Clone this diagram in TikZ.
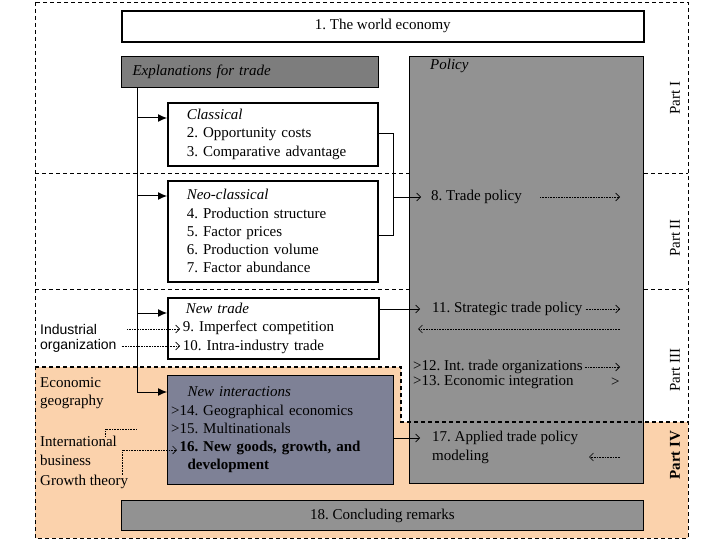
\documentclass[tikz,border=0pt]{standalone}
\usepackage{fontspec}
\setmainfont{Liberation Serif}
\setsansfont{Liberation Sans}
\usetikzlibrary{arrows.meta, positioning}
\definecolor{peach}{RGB}{251,210,172}
\definecolor{slab}{RGB}{146,146,146}
\definecolor{slabdark}{RGB}{125,125,125}
\definecolor{slabblue}{RGB}{126,129,150}
\newcommand{\bodyfont}{\fontsize{15}{18.3}\selectfont}
\newcommand{\gt}{\leavevmode\llap{>}}
\frenchspacing

\begin{document}
\begin{tikzpicture}[x=1pt, y=-1pt, every node/.style={font=\bodyfont},
    box/.style={draw=black, line width=1.6pt, fill=white, anchor=north west,
                inner sep=0pt, align=left},
    shaded/.style={box, fill=slab, line width=1pt},
    item/.style={anchor=west, inner sep=0pt},
    side/.style={anchor=west, inner sep=0pt, align=left},
    partlbl/.style={rotate=90, inner sep=0pt},
    main/.style={line width=1pt, -{Latex[length=9pt, width=8pt]}},
    feed/.style={line width=0.7pt, -{Straight Barb[length=4pt, width=8pt]}},
    dots/.style={densely dotted, line width=0.6pt, -{Straight Barb[length=4pt, width=8pt]}},
    dotline/.style={densely dotted, line width=0.6pt},
    sect/.style={line width=0.8pt, dash pattern=on 4pt off 3pt}]

  \useasboundingbox (0,0) rectangle (720,540);

  % part areas
  \fill[peach] (35,367) -- (401,367) -- (401,422) -- (688,422) -- (688,538) -- (35,538) -- cycle;
  \draw[sect] (35,2) rectangle (688,538);
  \draw[sect] (35,173) -- (688,173);
  \draw[sect] (35,289) -- (688,289);

  % boxes
  \node[box, minimum width=522pt, minimum height=31pt, align=center] (world) at (121,10) {1. The world economy};
  \node[shaded, fill=slabdark, minimum height=31pt, text width=235pt, inner xsep=11pt] (expl) at (121,56) {\textit{Explanations for trade}};
  \node[shaded, minimum width=234pt, minimum height=427pt] (policy) at (409,56) {};
  \node[item] (poltitle) at (430,66) {\textit{Policy}};

  \node[box, text width=172pt, inner xsep=19pt, minimum height=63pt] (cls) at (167,102)
    {\textit{Classical}\\2. Opportunity costs\\3. Comparative advantage};
  \node[box, text width=172pt, inner xsep=19pt, minimum height=101pt] (neo) at (167,180)
    {\textit{Neo-classical}\\4. Production structure\\5. Factor prices\\6. Production volume\\7. Factor abundance};
  \node[box, text width=181pt, inner xsep=15pt, minimum height=61pt] (nt) at (167,297)
    {\hspace*{3pt}\textit{New trade}\\9. Imperfect competition\\10. Intra-industry trade};
  \node[shaded, fill=slabblue, text width=202pt, inner xsep=12pt, minimum height=109pt] (ni) at (167,375)
    {\hspace*{8pt}\textit{New interactions}\\\gt 14. Geographical economics\\\gt 15. Multinationals\\
     \textbf{16. New goods, growth, and}\\\hspace*{8pt}\textbf{development}};
  \node[shaded, minimum width=522pt, minimum height=30pt, align=center] (concl) at (121,500) {18. Concluding remarks};

  % policy items
  \coordinate (rcol) at (620,0);
  \node[item] (tp) at (431,197) {8. Trade policy};
  \node[item] (st) at (432,309) {11. Strategic trade policy};
  \node[item] (ito) at (413,367) {>12. Int. trade organizations};
  \node[item] (ei) at (413,382) {>13. Economic integration};
  \node[item] (eiend) at (611,382) {>};
  \node[item] (ap) at (432,438) {17. Applied trade policy};
  \node[item] (apm) at (432,457) {modeling};

  % parts
  \node[partlbl] (p1) at (675,98) {Part I};
  \node[partlbl] (p2) at (675,238) {Part II};
  \node[partlbl] (p3) at (675,370) {Part III};
  \node[partlbl, font=\bodyfont\bfseries] (p4) at (675,455) {Part IV};
  \draw[sect, line width=1.3pt] (35,367) -- (401,367) -- (401,422) -- (688,422);

  % neighbouring fields
  \node[side, font=\fontsize{14}{16.5}\selectfont\sffamily] (io1) at (40,329) {Industrial};
  \node[side, font=\fontsize{14}{16.5}\selectfont\sffamily] (io2) at (40,346) {organization};
  \node[side] (eg) at (40,393) {Economic\\geography};
  \node[side] (ib) at (40,451) {International\\business};
  \node[side] (gth) at (40,482) {Growth theory};

  % explanations
  \coordinate (trunk) at ([xshift=16pt]expl.south west);
  \coordinate (in1) at ([yshift=-16pt]cls.north west);
  \coordinate (in2) at ([yshift=-16pt]neo.north west);
  \coordinate (in3) at ([yshift=-16pt]nt.north west);
  \coordinate (in4) at ([yshift=-17pt]ni.north west);
  \draw[line width=1pt] (trunk) -- (trunk |- in4);
  \foreach \c in {in1,in2,in3,in4}
    \draw[main] (trunk |- \c) -- (\c);

  % into policy
  \coordinate (br) at ([xshift=15pt]cls.east);
  \draw[line width=0.7pt] ([yshift=-31pt]cls.north east) -| (br |- tp) |- ([yshift=-55pt]neo.north east);
  \draw[feed] (br |- tp) -- ([xshift=-10pt]tp.west);
  \draw[dots] ([xshift=18pt]tp.east) -- (tp.east -| rcol);
  \draw[feed] (nt.east |- st) -- ([xshift=-12pt]st.west);
  \draw[dots] ([xshift=3pt]st.east) -- (st.east -| rcol);
  \coordinate (back) at ([yshift=-20pt]st.west);
  \draw[dots] (back -| rcol) -- ([xshift=-14pt]back);
  \draw[dots] ([xshift=2pt]ito.east) -- (ito.east -| rcol);
  \draw[feed] (ni.east |- ap) -- ([xshift=-12pt]ap.west);
  \draw[dots] (apm.east -| rcol) -- +(-31,0);

  % fields into chapters
  \coordinate (nt9) at ([xshift=13pt,yshift=-32pt]nt.north west);
  \coordinate (nt10) at ([xshift=13pt,yshift=-49pt]nt.north west);
  \draw[dots] ([xshift=30pt]io1.east) -- (io1.east -| nt9);
  \draw[dots] ([xshift=5pt]io2.east) -- (io2.east -| nt10);
  \coordinate (ibtop) at ([xshift=65pt]ib.north west);
  \coordinate (jn15) at ([yshift=-54pt]ni.north west);
  \draw[dotline] (ibtop) |- (jn15 -| trunk);
  \coordinate (gttop) at ([xshift=82pt]gth.north west);
  \coordinate (in16) at ([xshift=10pt,yshift=-75pt]ni.north west);
  \draw[dots] (gttop) |- (in16);
\end{tikzpicture}
\end{document}
